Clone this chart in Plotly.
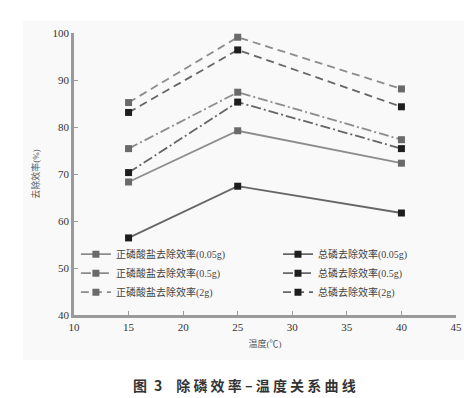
import plotly.graph_objects as go

temps = [15, 25, 40]
ortho_005 = [68.3, 79.2, 72.3]
ortho_05 = [75.4, 87.4, 77.3]
ortho_2 = [85.2, 99.1, 88.1]
total_005 = [56.4, 67.4, 61.7]
total_05 = [70.3, 85.3, 75.4]
total_2 = [83.1, 96.4, 84.3]

names_ortho = ["正磷酸盐去除效率(0.05g)", "正磷酸盐去除效率(0.5g)", "正磷酸盐去除效率(2g)"]
names_total = ["总磷去除效率(0.05g)", "总磷去除效率(0.5g)", "总磷去除效率(2g)"]
x_ticks = [10, 15, 20, 25, 30, 35, 40, 45]
y_ticks = [40, 50, 60, 70, 80, 90, 100]

serif = "Liberation Serif, DejaVu Serif, serif"
cjk = "Liberation Serif, Noto Sans CJK SC, serif"

fig = go.Figure()
dashes = ["solid", "10px,3px,2px,3px", "8px,5px"]
for vals, nm, d in zip([ortho_005, ortho_05, ortho_2], names_ortho, dashes):
    fig.add_trace(go.Scatter(x=temps, y=vals, name=nm, mode="lines+markers",
                             line=dict(color="#8c8c8c", width=1.8, dash=d),
                             marker=dict(symbol="square", size=7, color="#6a6a6a"),
                             legend="legend"))
for vals, nm, d in zip([total_005, total_05, total_2], names_total, dashes):
    fig.add_trace(go.Scatter(x=temps, y=vals, name=nm, mode="lines+markers",
                             line=dict(color="#666666", width=1.8, dash=d),
                             marker=dict(symbol="square", size=7, color="#1e1e1e"),
                             legend="legend2"))

leg_common = dict(bgcolor="rgba(0,0,0,0)", font=dict(family=cjk, size=10, color="#444"),
                  yanchor="top", xanchor="left", tracegroupgap=0, itemwidth=30)
fig.update_layout(
    width=472, height=398,
    margin=dict(l=66, r=24, t=25, b=91),
    paper_bgcolor="white", plot_bgcolor="rgba(0,0,0,0)",
    showlegend=True,
    legend=dict(x=0.005, y=0.267, **leg_common),
    legend2=dict(x=0.534, y=0.267, **leg_common),
    xaxis=dict(range=[10, 45], tickvals=x_ticks, showgrid=False, zeroline=False,
               showline=True, linecolor="#9a9a9a", linewidth=2.5,
               ticks="inside", ticklen=4, tickcolor="#9a9a9a", tickwidth=1,
               tickfont=dict(family=serif, size=11, color="#333"),
               title=dict(text="温度(℃)", font=dict(family=cjk, size=9, color="#555"), standoff=9)),
    yaxis=dict(range=[40, 100], tickvals=y_ticks, showgrid=False, zeroline=False,
               showline=True, linecolor="#9a9a9a", linewidth=2.5,
               ticks="inside", ticklen=4, tickcolor="#9a9a9a", tickwidth=1,
               tickfont=dict(family=serif, size=11, color="#333"),
               title=dict(text="去除效率(%)", font=dict(family=cjk, size=9, color="#555"), standoff=12)),
    shapes=[dict(type="rect", xref="paper", yref="paper", layer="below",
                 x0=-51/382, x1=407/382, y0=-45/282, y1=1 + 12/282,
                 fillcolor="#f9f9f9", line=dict(width=0))],
    annotations=[dict(text="<b>图\u20023\u2003除 磷 效 率 – 温 度 关 系 曲 线</b>", xref="paper", yref="paper",
                      x=(236 - 66) / 382, y=-(377 - 307) / 282, xanchor="center", yanchor="middle",
                      showarrow=False, font=dict(family="Noto Sans CJK SC", size=14, color="#333"))],
)
fig.write_html("out.html")
